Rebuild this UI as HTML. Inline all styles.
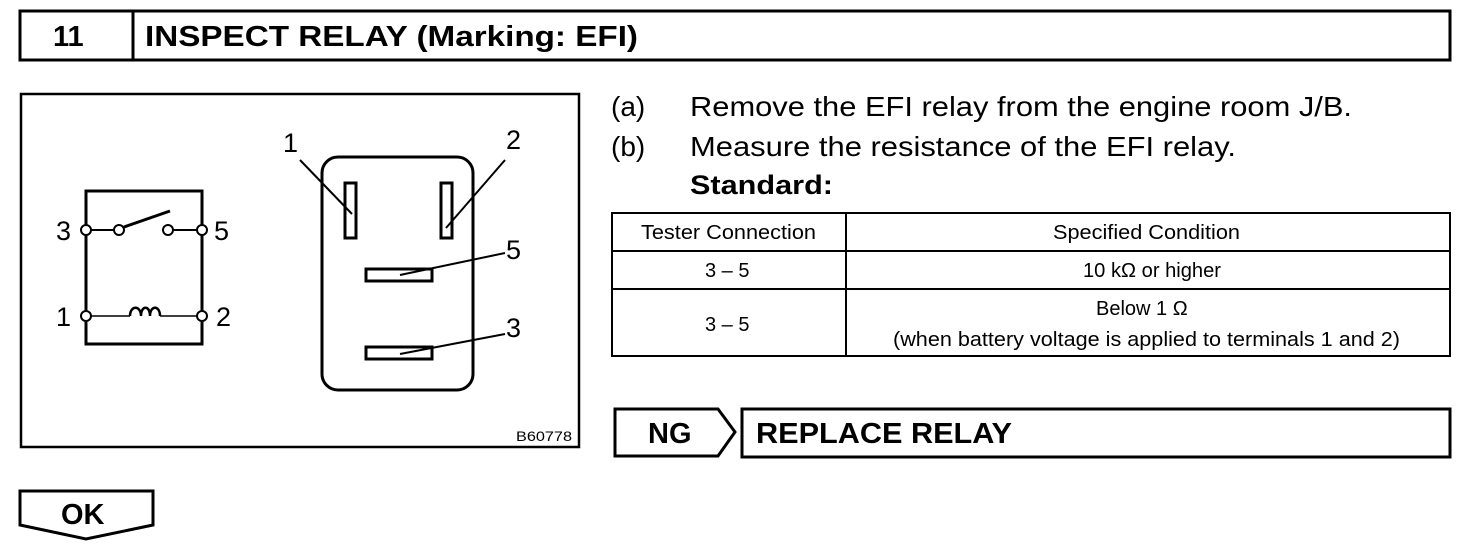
<!DOCTYPE html><html><head><style>
body{margin:0;background:#fff;width:1472px;height:556px;overflow:hidden;font-family:"Liberation Sans",sans-serif;position:relative}
.a{position:absolute}
</style></head><body>
<svg class="a" style="left:0;top:0" width="1472" height="556">
<g fill="none" stroke="#000" stroke-width="3">
<rect x="20" y="11" width="1430" height="49"/>
<line x1="133" y1="11" x2="133" y2="60"/>
<rect x="21" y="94" width="558" height="353" stroke-width="2.5"/>
<rect x="86" y="191" width="116" height="153"/>
<rect x="322" y="157" width="151" height="233" rx="16"/>
<rect x="345" y="183" width="11" height="55" stroke-width="3"/>
<rect x="441" y="183" width="11" height="55" stroke-width="3"/>
<rect x="366" y="269" width="66" height="12" stroke-width="3"/>
<rect x="366" y="347" width="66" height="12" stroke-width="3"/>
<path d="M615 409 H718 L735 432 L718 456 H615 Z"/>
<rect x="742" y="409" width="708" height="48"/>
<path d="M20 491 H153 V525 L86 539 L20 525 Z"/>
</g>
<g stroke="#000" stroke-width="2" fill="none">
<line x1="300" y1="160" x2="352" y2="214"/>
<line x1="505" y1="160" x2="446" y2="228"/>
<line x1="505" y1="253" x2="400" y2="275"/>
<line x1="505" y1="334" x2="400" y2="354"/>
<line x1="91" y1="230" x2="114" y2="230"/>
<line x1="173" y1="230" x2="197" y2="230"/>
<line x1="124" y1="227" x2="170" y2="211" stroke-width="3"/>
<line x1="91" y1="316" x2="130" y2="316" stroke-width="1.5"/>
<line x1="160" y1="316" x2="197" y2="316" stroke-width="1.5"/>
<path d="M130 316 C130 305 141 305 141 316 C141 305 150 305 150 316 C150 305 160 305 160 316" stroke-width="2.5"/>
<circle cx="86" cy="230" r="5" fill="#fff"/><circle cx="202" cy="230" r="5" fill="#fff"/>
<circle cx="119" cy="230" r="5" fill="#fff"/><circle cx="168" cy="230" r="5" fill="#fff"/>
<circle cx="86" cy="316" r="5" fill="#fff"/><circle cx="202" cy="316" r="5" fill="#fff"/>
</g>
<g font-family="Liberation Sans" font-size="27" fill="#000">
<text x="56" y="240">3</text><text x="214" y="240">5</text>
<text x="56" y="326">1</text><text x="216" y="326">2</text>
<text x="283" y="152">1</text><text x="506" y="149">2</text>
<text x="506" y="259">5</text><text x="506" y="337">3</text>
<text x="516" y="441" font-size="14" textLength="56" lengthAdjust="spacingAndGlyphs">B60778</text>
</g>
<g stroke="#000" stroke-width="2" fill="none">
<rect x="612" y="213" width="838" height="143"/>
<line x1="612" y1="251" x2="1450" y2="251"/>
<line x1="612" y1="289" x2="1450" y2="289"/>
<line x1="846" y1="213" x2="846" y2="356"/>
</g>
<g font-family="Liberation Sans" font-size="20" fill="#000">
<text x="641" y="239" textLength="175" lengthAdjust="spacingAndGlyphs">Tester Connection</text>
<text x="1053" y="239" textLength="187" lengthAdjust="spacingAndGlyphs">Specified Condition</text>
<text x="705" y="277">3 – 5</text><text x="1083" y="277" textLength="138" lengthAdjust="spacingAndGlyphs">10 kΩ or higher</text>
<text x="705" y="331">3 – 5</text><text x="1096" y="315">Below 1 Ω</text>
<text x="893" y="346" textLength="507" lengthAdjust="spacingAndGlyphs">(when battery voltage is applied to terminals 1 and 2)</text>
</g>
<g font-family="Liberation Sans" font-weight="bold" font-size="29" fill="#000">
<text x="53" y="46">11</text>
<text x="145" y="46" textLength="493" lengthAdjust="spacingAndGlyphs">INSPECT RELAY (Marking: EFI)</text>
<text x="648" y="443">NG</text>
<text x="756" y="443" textLength="256" lengthAdjust="spacingAndGlyphs">REPLACE RELAY</text>
<text x="61" y="524">OK</text>
<text x="690" y="194" font-size="27" textLength="143" lengthAdjust="spacingAndGlyphs">Standard:</text>
</g>
<g font-family="Liberation Sans" font-size="28" fill="#000">
<text x="611" y="116">(a)</text><text x="690" y="116" textLength="662" lengthAdjust="spacingAndGlyphs">Remove the EFI relay from the engine room J/B.</text>
<text x="611" y="156">(b)</text><text x="690" y="156" textLength="546" lengthAdjust="spacingAndGlyphs">Measure the resistance of the EFI relay.</text>
</g>
</svg>
</body></html>
